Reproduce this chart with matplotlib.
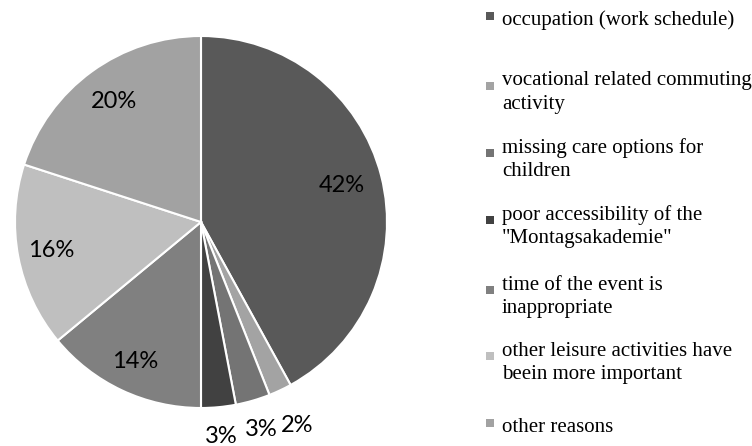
import numpy as np
import matplotlib
matplotlib.use("Agg")
import matplotlib.pyplot as plt
from matplotlib.patches import Rectangle

labels = [
    "occupation (work schedule)",
    "vocational related commuting\nactivity",
    "missing care options for\nchildren",
    "poor accessibility of the\n\"Montagsakademie\"",
    "time of the event is\ninappropriate",
    "other leisure activities have\nbeein more important",
    "other reasons",
]
shares = [42, 2, 3, 3, 14, 16, 20]
colors = ["#595959", "#a3a3a3", "#747474", "#414141", "#808080", "#bfbfbf", "#a2a2a2"]
# radial position of the % labels
label_r = [0.78, 1.21, 1.16, 1.16, 0.83, 0.82, 0.80]

W, H = 752, 446
fig = plt.figure(figsize=(W / 100, H / 100), dpi=100)

cx, cy, R = 201, 222, 186
ax = fig.add_axes([(cx - R) / W, (H - cy - R) / H, 2 * R / W, 2 * R / H])
wedges, _ = ax.pie(shares, colors=colors, startangle=90, counterclock=False,
                   wedgeprops=dict(edgecolor="white", linewidth=1.5))
ax.set_xlim(-1, 1)
ax.set_ylim(-1, 1)
ax.set_aspect("equal")
ax.axis("off")

for w, s, r in zip(wedges, shares, label_r):
    a = np.deg2rad((w.theta1 + w.theta2) / 2)
    ax.text(r * np.cos(a), r * np.sin(a), f"{s}%", ha="center", va="center",
            fontsize=17, family="Lato", color="#000000", clip_on=False)

# legend drawn by hand (uneven spacing in the original)
leg_y = [18, 88, 155, 222, 292, 358, 425]
for lab, c, y in zip(labels, colors, leg_y):
    fig.patches.append(Rectangle((486 / W, 1 - (y + 2) / H), 8 / W, 8 / H,
                                 transform=fig.transFigure, facecolor=c,
                                 edgecolor="none"))
    fig.text(502 / W, 1 - y / H, lab, ha="left", va="center_baseline",
             fontsize=15, family="Liberation Serif", color="#000000",
             linespacing=1.32)

fig.savefig("out.png", dpi=100)
